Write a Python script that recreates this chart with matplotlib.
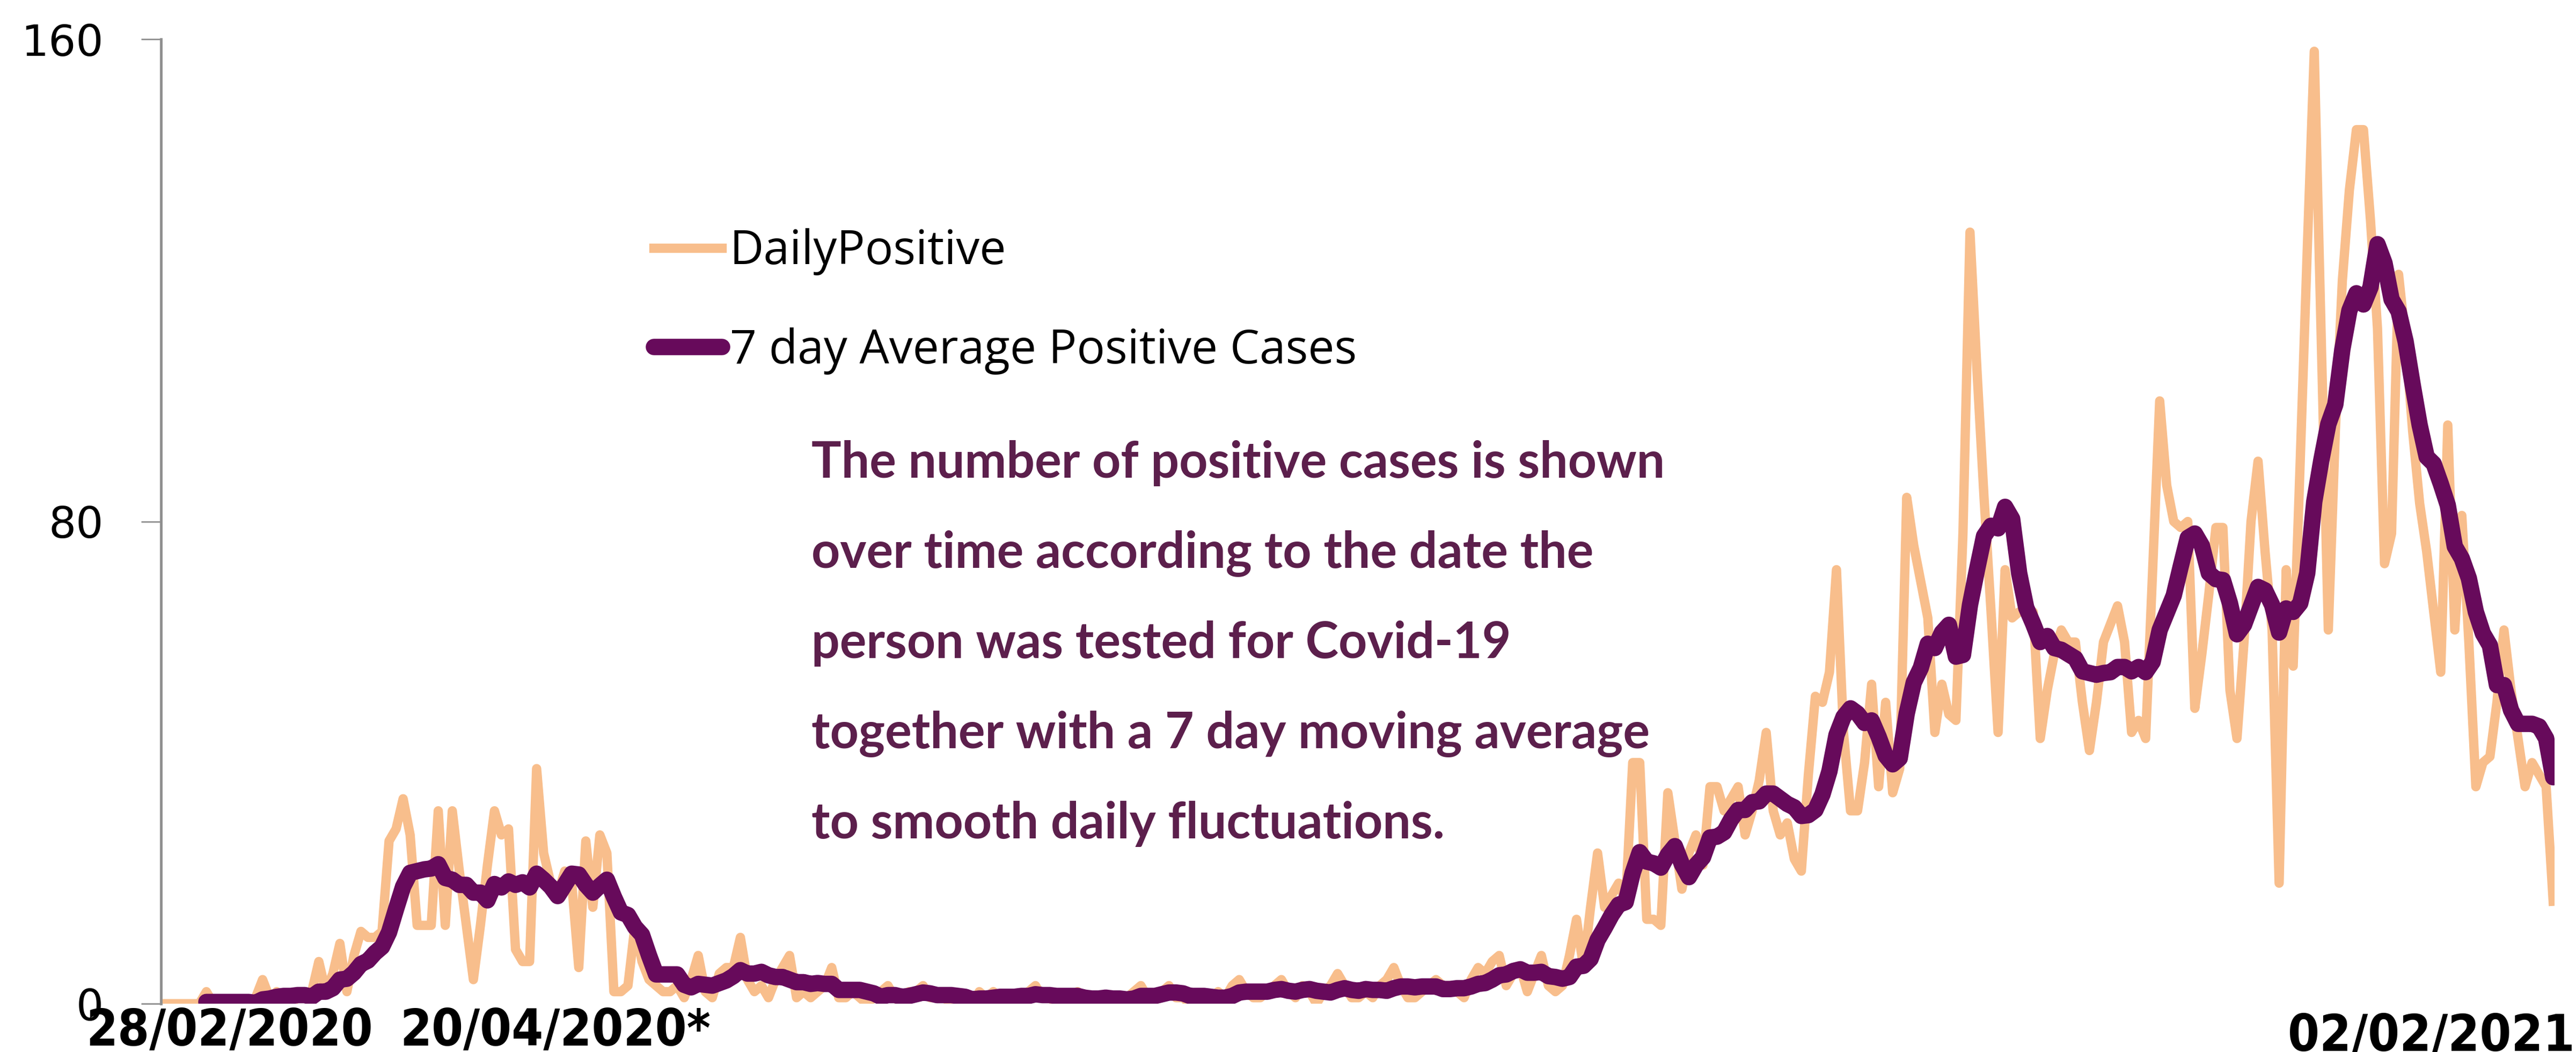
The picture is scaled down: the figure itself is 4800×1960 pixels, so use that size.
import matplotlib
matplotlib.use("Agg")
import matplotlib.pyplot as plt
from matplotlib.font_manager import FontProperties
import pandas as pd

# daily positive cases, 28/02/2020 -> 02/02/2021
start_date = "2020-02-28"
end_date = "2021-02-02"
daily_positive = [
    0, 0, 0, 0, 0, 0, 2, 0, 0, 0,
    0, 0, 0, 1, 4, 1, 2, 1, 0, 1,
    1, 2, 7, 2, 5, 10, 2, 8, 12, 11,
    11, 12, 27, 29, 34, 28, 13, 13, 13, 32,
    13, 32, 22, 13, 4, 13, 23, 32, 28, 29,
    9, 7, 7, 39, 25, 20, 18, 22, 20, 6,
    27, 16, 28, 25, 2, 2, 3, 13, 7, 4,
    3, 2, 2, 3, 1, 4, 8, 2, 1, 5,
    6, 6, 11, 4, 2, 3, 1, 4, 6, 8,
    1, 2, 1, 2, 3, 6, 1, 1, 2, 1,
    0, 1, 2, 3, 1, 0, 2, 2, 3, 1,
    1, 1, 0, 1, 1, 0, 2, 1, 2, 1,
    1, 1, 1, 2, 3, 1, 1, 0, 1, 1,
    2, 1, 0, 1, 1, 0, 1, 1, 2, 3,
    1, 1, 2, 3, 1, 1, 0, 1, 1, 1,
    2, 1, 3, 4, 2, 1, 1, 2, 3, 4,
    2, 1, 3, 2, 0, 2, 3, 5, 3, 1,
    1, 2, 1, 3, 4, 6, 3, 1, 1, 2,
    3, 4, 3, 3, 2, 1, 4, 6, 5, 7,
    8, 3, 5, 6, 2, 5, 8, 3, 2, 3,
    8, 14, 6, 16, 25, 16, 18, 20, 17, 40,
    40, 14, 14, 13, 35, 27, 19, 25, 28, 23,
    36, 36, 32, 34, 36, 28, 32, 37, 45, 32,
    28, 30, 24, 22, 38, 51, 50, 55, 72, 45,
    32, 32, 40, 53, 36, 50, 35, 39, 84, 76,
    70, 64, 45, 53, 48, 47, 78, 128, 105, 84,
    65, 45, 72, 64, 65, 65, 65, 44, 52, 58,
    62, 60, 60, 50, 42, 50, 60, 63, 66, 60,
    45, 47, 44, 72, 100, 86, 80, 79, 80, 49,
    58, 68, 79, 79, 52, 44, 60, 80, 90, 75,
    62, 20, 72, 56, 90, 125, 158, 110, 62, 95,
    120, 135, 145, 145, 130, 112, 73, 78, 121, 110,
    95, 83, 75, 65, 55, 96, 62, 81, 60, 36,
    40, 41, 50, 62, 52, 44, 36, 40, 38, 36,
    17,
]

y_ticks = [0, 80, 160]
date_labels = ["28/02/2020", "20/04/2020*", "02/02/2021"]
series_names = ["DailyPositive", "7 day Average Positive Cases"]
note_lines = [
    "The number of positive cases is shown",
    "over time according to the date the",
    "person was tested for Covid-19",
    "together with a 7 day moving average",
    "to smooth daily fluctuations.",
]

orange = "#F8BE8C"
purple = "#670A5B"
note_colour = "#5C1F4C"

dates = pd.date_range(start_date, end_date, freq="D")
df = pd.DataFrame({"daily": daily_positive}, index=dates)
df["avg7"] = df["daily"].rolling(7).mean()

fig = plt.figure(figsize=(48, 19.6), dpi=100)
ax = fig.add_axes([0.0625, 0.0459, 0.9292, 0.9168])

ax.plot(df.index, df["daily"], color=orange, lw=12.5, label=series_names[0])
ax.plot(df.index, df["avg7"], color=purple, lw=22, label=series_names[1],
        solid_capstyle="round")

ax.set_ylim(0, 160)
ax.set_xlim(dates[0] - pd.Timedelta(hours=11), dates[-1] + pd.Timedelta(hours=5))

for s in ["top", "right", "bottom"]:
    ax.spines[s].set_visible(False)
ax.spines["left"].set_color("#8f8f8f")
ax.spines["left"].set_linewidth(3.5)

ax.set_xticks([])
ax.set_yticks(y_ticks)
ax.set_yticklabels([str(t) for t in y_ticks], family="DejaVu Sans")
ax.tick_params(axis="y", labelsize=58, length=27, width=2, color="#8f8f8f",
               pad=50, labelcolor="black")

leg = ax.legend(loc="upper left", bbox_to_anchor=(0.2538, 0.783),
                bbox_transform=fig.transFigure, frameon=False,
                prop=FontProperties(family="Open Sans", size=63),
                handlelength=1.45, handletextpad=0.17, labelspacing=1.1,
                borderpad=0, borderaxespad=0)

# explanatory note
for i, line in enumerate(note_lines):
    fig.text(1512 / 4800, 1 - (890 + i * 168) / 1960, line, ha="left",
             va="baseline", family="Lato", fontweight="bold", fontsize=67,
             color=note_colour)

# date labels under the axis
date_font = dict(family="DejaVu Sans", fontweight="bold", fontsize=68,
                 fontstretch="condensed", va="baseline", color="black")
fig.text(160 / 4800, 12 / 1960, date_labels[0], ha="left", **date_font)
fig.text(745 / 4800, 12 / 1960, date_labels[1], ha="left", **date_font)
fig.text(4798 / 4800, 2 / 1960, date_labels[2], ha="right", **date_font)

fig.savefig("out.png", dpi=100)
